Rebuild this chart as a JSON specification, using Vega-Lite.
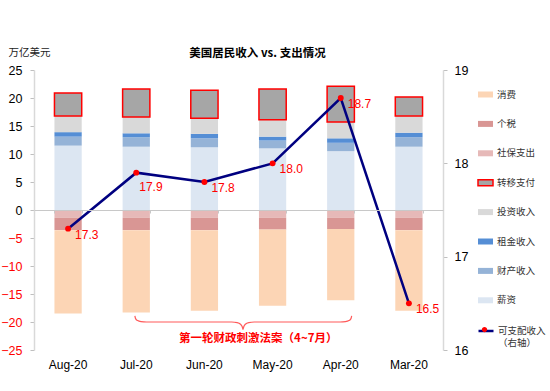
{
  "$schema": "https://vega.github.io/schema/vega-lite/v6.json",
  "width": 409,
  "height": 280,
  "autosize": {"type": "none"},
  "padding": {"left": 34, "top": 70, "right": 107, "bottom": 41},
  "background": "white",
  "config": {"view": {"stroke": null}, "font": "Liberation Sans"},
  "title": {"text": "美国居民收入 vs. 支出情况", "font": "Noto Sans CJK SC", "fontSize": 11.5, "fontWeight": "bold", "color": "#000000", "anchor": "middle", "dx": 19, "offset": -12},
  "datasets": {
    "bars": [
      {"月份": "Aug-20", "类别": "薪资", "值": 11.5},
      {"月份": "Aug-20", "类别": "财产收入", "值": 1.6},
      {"月份": "Aug-20", "类别": "租金收入", "值": 0.8},
      {"月份": "Aug-20", "类别": "投资收入", "值": 2.9},
      {"月份": "Aug-20", "类别": "转移支付", "值": 4.1},
      {"月份": "Aug-20", "类别": "社保支出", "值": -1.4},
      {"月份": "Aug-20", "类别": "个税", "值": -2.2},
      {"月份": "Aug-20", "类别": "消费", "值": -14.9},
      {"月份": "Jul-20", "类别": "薪资", "值": 11.3},
      {"月份": "Jul-20", "类别": "财产收入", "值": 1.7},
      {"月份": "Jul-20", "类别": "租金收入", "值": 0.7},
      {"月份": "Jul-20", "类别": "投资收入", "值": 2.9},
      {"月份": "Jul-20", "类别": "转移支付", "值": 5.0},
      {"月份": "Jul-20", "类别": "社保支出", "值": -1.4},
      {"月份": "Jul-20", "类别": "个税", "值": -2.2},
      {"月份": "Jul-20", "类别": "消费", "值": -14.7},
      {"月份": "Jun-20", "类别": "薪资", "值": 11.2},
      {"月份": "Jun-20", "类别": "财产收入", "值": 1.6},
      {"月份": "Jun-20", "类别": "租金收入", "值": 0.8},
      {"月份": "Jun-20", "类别": "投资收入", "值": 2.8},
      {"月份": "Jun-20", "类别": "转移支付", "值": 5.0},
      {"月份": "Jun-20", "类别": "社保支出", "值": -1.4},
      {"月份": "Jun-20", "类别": "个税", "值": -2.2},
      {"月份": "Jun-20", "类别": "消费", "值": -14.4},
      {"月份": "May-20", "类别": "薪资", "值": 11.0},
      {"月份": "May-20", "类别": "财产收入", "值": 1.4},
      {"月份": "May-20", "类别": "租金收入", "值": 0.7},
      {"月份": "May-20", "类别": "投资收入", "值": 3.0},
      {"月份": "May-20", "类别": "转移支付", "值": 5.5},
      {"月份": "May-20", "类别": "社保支出", "值": -1.4},
      {"月份": "May-20", "类别": "个税", "值": -2.1},
      {"月份": "May-20", "类别": "消费", "值": -13.6},
      {"月份": "Apr-20", "类别": "薪资", "值": 10.5},
      {"月份": "Apr-20", "类别": "财产收入", "值": 1.5},
      {"月份": "Apr-20", "类别": "租金收入", "值": 0.8},
      {"月份": "Apr-20", "类别": "投资收入", "值": 2.9},
      {"月份": "Apr-20", "类别": "转移支付", "值": 6.4},
      {"月份": "Apr-20", "类别": "社保支出", "值": -1.4},
      {"月份": "Apr-20", "类别": "个税", "值": -2.0},
      {"月份": "Apr-20", "类别": "消费", "值": -12.7},
      {"月份": "Mar-20", "类别": "薪资", "值": 11.3},
      {"月份": "Mar-20", "类别": "财产收入", "值": 1.7},
      {"月份": "Mar-20", "类别": "租金收入", "值": 0.8},
      {"月份": "Mar-20", "类别": "投资收入", "值": 3.0},
      {"月份": "Mar-20", "类别": "转移支付", "值": 3.4},
      {"月份": "Mar-20", "类别": "社保支出", "值": -1.4},
      {"月份": "Mar-20", "类别": "个税", "值": -2.2},
      {"月份": "Mar-20", "类别": "消费", "值": -14.4}
    ],
    "income": [
      {"月份": "Aug-20", "可支配收入": 17.3},
      {"月份": "Jul-20", "可支配收入": 17.9},
      {"月份": "Jun-20", "可支配收入": 17.8},
      {"月份": "May-20", "可支配收入": 18.0},
      {"月份": "Apr-20", "可支配收入": 18.7},
      {"月份": "Mar-20", "可支配收入": 16.5}
    ],
    "brace": [
      {"bx": 1.48, "by": -18.9},
      {"bx": 1.49, "by": -19.4},
      {"bx": 1.52, "by": -19.75},
      {"bx": 1.57, "by": -19.93},
      {"bx": 1.65, "by": -20.0},
      {"bx": 2.9, "by": -20.0},
      {"bx": 2.98, "by": -20.1},
      {"bx": 3.03, "by": -20.4},
      {"bx": 3.055, "by": -20.85},
      {"bx": 3.066, "by": -21.3},
      {"bx": 3.077, "by": -20.85},
      {"bx": 3.10, "by": -20.4},
      {"bx": 3.15, "by": -20.1},
      {"bx": 3.23, "by": -20.0},
      {"bx": 4.49, "by": -20.0},
      {"bx": 4.57, "by": -19.93},
      {"bx": 4.62, "by": -19.75},
      {"bx": 4.65, "by": -19.4},
      {"bx": 4.66, "by": -18.9}
    ]
  },
  "layer": [
    {
      "data": {"name": "bars"},
      "transform": [
        {"calculate": "indexof(['薪资','财产收入','租金收入','投资收入','转移支付','社保支出','个税','消费'], datum['类别'])", "as": "k"}
      ],
      "mark": {"type": "bar", "strokeWidth": 1.5},
      "encoding": {
        "x": {
          "field": "月份", "type": "nominal",
          "scale": {"domain": ["Aug-20", "Jul-20", "Jun-20", "May-20", "Apr-20", "Mar-20"], "paddingInner": 0.6, "paddingOuter": 0.3},
          "axis": {"title": null, "orient": "bottom", "domain": false, "ticks": false, "labelPadding": 9, "labelFontSize": 12, "labelColor": "#000000", "labelAngle": 0, "labelFont": "Liberation Sans"}
        },
        "y": {
          "field": "值", "type": "quantitative", "stack": "zero",
          "scale": {"domain": [-25, 25], "nice": false, "zero": false},
          "axis": {
            "orient": "left", "title": "万亿美元", "titleAngle": 0, "titleX": -26, "titleY": -18, "titleAlign": "left", "titleBaseline": "middle",
            "titleFont": "Noto Sans CJK SC", "titleFontSize": 10.5, "titleFontWeight": "normal", "titleColor": "#222222",
            "values": [-25, -20, -15, -10, -5, 0, 5, 10, 15, 20, 25], "grid": false,
            "domainColor": "#D9D9D9", "domainWidth": 1.5, "tickColor": "#BFBFBF", "tickSize": 4, "labelPadding": 8,
            "labelFontSize": 12.5, "labelFont": "Liberation Sans",
            "labelColor": {"condition": {"test": "datum.value < 0", "value": "#FF0000"}, "value": "#000000"}
          }
        },
        "color": {
          "field": "类别", "type": "nominal",
          "scale": {
            "domain": ["消费", "个税", "社保支出", "转移支付", "投资收入", "租金收入", "财产收入", "薪资"],
            "range": ["#FCD5B5", "#D99694", "#E6B9B8", "#A6A6A6", "#D9D9D9", "#558ED5", "#95B3D7", "#DCE6F2"]
          },
          "legend": {"orient": "none", "legendX": 443, "legendY": 16, "title": null, "symbolType": "M-1,-0.4H1V0.4H-1Z", "symbolSize": 225, "symbolStrokeWidth": 1.5, "rowPadding": 14.4, "labelFont": "Noto Sans CJK SC", "labelFontSize": 9.5, "labelColor": "#333333", "labelOffset": 3, "padding": 0}
        },
        "stroke": {
          "field": "类别", "type": "nominal",
          "scale": {
            "domain": ["消费", "个税", "社保支出", "转移支付", "投资收入", "租金收入", "财产收入", "薪资"],
            "range": ["transparent", "transparent", "transparent", "#FF0000", "transparent", "transparent", "transparent", "transparent"]
          },
          "legend": {"orient": "none", "legendX": 443, "legendY": 16, "title": null, "symbolType": "M-1,-0.4H1V0.4H-1Z", "symbolSize": 225, "symbolStrokeWidth": 1.5, "rowPadding": 14.4, "labelFont": "Noto Sans CJK SC", "labelFontSize": 9.5, "labelColor": "#333333", "labelOffset": 3, "padding": 0}
        },
        "order": {"field": "k", "type": "quantitative"}
      }
    },
    {
      "data": {"name": "income"},
      "encoding": {
        "x": {
          "field": "月份", "type": "nominal",
          "scale": {"domain": ["Aug-20", "Jul-20", "Jun-20", "May-20", "Apr-20", "Mar-20"], "paddingInner": 0.6, "paddingOuter": 0.3},
          "axis": {"title": null, "orient": "bottom", "offset": -140, "labels": false, "domainColor": "#C8C8C8", "domainWidth": 1, "tickColor": "#C8C8C8", "tickSize": 3, "tickBand": "extent", "zindex": 1}
        },
        "y": {
          "field": "可支配收入", "type": "quantitative",
          "scale": {"domain": [16, 19], "nice": false, "zero": false},
          "axis": {"orient": "right", "title": null, "values": [16, 17, 18, 19], "grid": false, "domainColor": "#D9D9D9", "domainWidth": 1.5, "tickColor": "#BFBFBF", "tickSize": 4, "labelPadding": 7, "labelFontSize": 12.5, "labelFont": "Liberation Sans", "labelColor": "#000000"}
        }
      },
      "layer": [
        {
          "mark": {"type": "line", "strokeWidth": 2.5},
          "encoding": {
            "color": {
              "datum": "可支配收入（右轴）",
              "scale": {"range": ["#000080"]},
              "legend": {"orient": "none", "legendX": 443, "legendY": 252, "title": null, "symbolType": "stroke", "symbolSize": 225, "symbolStrokeWidth": 2.5, "labelExpr": "['可支配收入', '（右轴）']", "labelFont": "Noto Sans CJK SC", "labelFontSize": 9.5, "labelColor": "#333333", "labelOffset": 3, "padding": 0}
            }
          }
        },
        {
          "mark": {"type": "point", "filled": true, "size": 35, "opacity": 1},
          "encoding": {
            "fill": {
              "datum": "可支配收入 右轴",
              "scale": {"range": ["#FF0000"]},
              "legend": {"orient": "none", "legendX": 443, "legendY": 252, "title": null, "symbolType": "M0.35,0A0.35,0.35 0 1 1 -0.35,0A0.35,0.35 0 1 1 0.35,0Z", "symbolSize": 225, "symbolStrokeWidth": 0, "labelExpr": "''", "labelFont": "Noto Sans CJK SC", "labelFontSize": 9.5, "labelColor": "transparent", "labelOffset": 3, "padding": 0}
            }
          }
        },
        {
          "transform": [{"filter": "datum['月份'] != 'Jul-20'"}],
          "mark": {"type": "text", "align": "left", "baseline": "middle", "dx": 7, "dy": 6, "fontSize": 12, "font": "Liberation Sans", "color": "#FF0000"},
          "encoding": {"text": {"field": "可支配收入", "type": "quantitative", "format": ".1f"}}
        },
        {
          "transform": [{"filter": "datum['月份'] == 'Jul-20'"}],
          "mark": {"type": "text", "align": "left", "baseline": "middle", "dx": 3, "dy": 14, "fontSize": 12, "font": "Liberation Sans", "color": "#FF0000"},
          "encoding": {"text": {"field": "可支配收入", "type": "quantitative", "format": ".1f"}}
        }
      ]
    },
    {
      "layer": [
        {
          "data": {"name": "brace"},
          "mark": {"type": "line", "color": "#FF5A5A", "strokeWidth": 1.2, "interpolate": "monotone"},
          "encoding": {
            "x": {"field": "bx", "type": "quantitative", "scale": {"domain": [0, 6], "nice": false, "zero": false}, "axis": null},
            "y": {"field": "by", "type": "quantitative", "scale": {"domain": [-25, 25], "nice": false, "zero": false}, "axis": null},
            "order": {"field": "bx", "type": "quantitative"}
          }
        },
        {
          "data": {"values": [{"bx": 3.29, "by": -23.0, "t": "第一轮财政刺激法案（4~7月）"}]},
          "mark": {"type": "text", "font": "Noto Sans CJK SC", "fontSize": 11.5, "fontWeight": "bold", "color": "#FF0000", "align": "center", "baseline": "middle"},
          "encoding": {
            "x": {"field": "bx", "type": "quantitative", "scale": {"domain": [0, 6], "nice": false, "zero": false}, "axis": null},
            "y": {"field": "by", "type": "quantitative", "scale": {"domain": [-25, 25], "nice": false, "zero": false}, "axis": null},
            "text": {"field": "t"}
          }
        }
      ]
    }
  ],
  "resolve": {"scale": {"x": "independent", "y": "independent", "color": "independent", "stroke": "independent", "fill": "independent"}}
}
